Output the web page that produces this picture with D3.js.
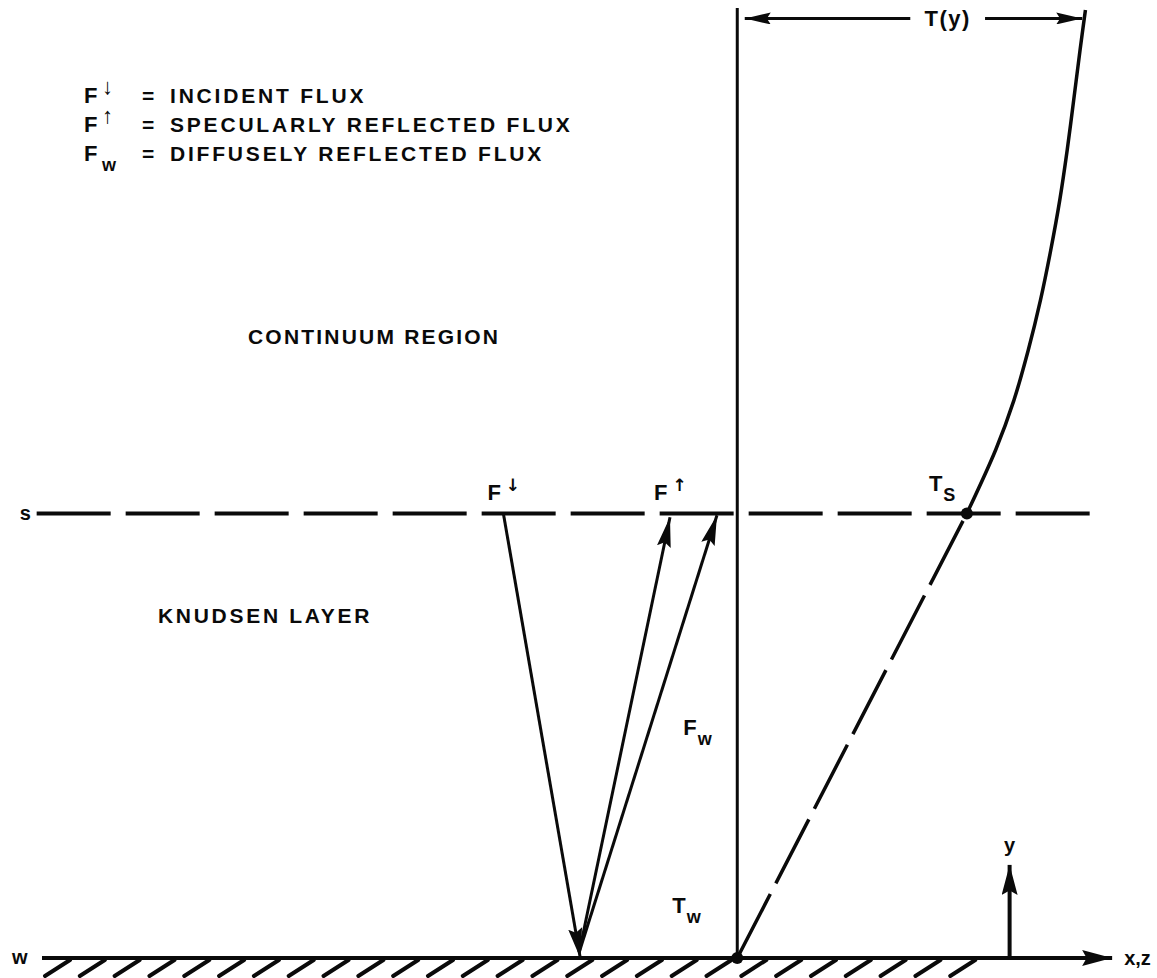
<!DOCTYPE html>
<html><head><meta charset="utf-8">
<script src="https://cdn.jsdelivr.net/npm/d3@7"></script>
<style>
body{margin:0;background:#fff}
text{font-family:"Liberation Sans",Arial,sans-serif;font-weight:bold;fill:#0a0a0a}
</style>
</head><body>
<svg id="c" width="1157" height="978"></svg>
<script>
// ---- data (diagram units: x 0..100 across the wall, y 0 = wall, 100 = top) ----
const wallLevel = 0;
const slipLevel = 46.8;            // "s" plane
const topLevel = 100;
const wallExtent = [0, 100.2];
const slipExtent = [-0.5, 99.3];
const profileAxisX = 65.1;         // reference axis for T(y)
const profileHeights = [46.8, 53.5, 58.7, 64.0, 69.3, 74.5, 79.8, 85.1, 90.3, 95.6, 99.8];
const profileTemps   = [86.6, 89.3, 91.0, 92.35, 93.5, 94.45, 95.3, 96.0, 96.6, 97.2, 97.7];
const wallTemp = [65.1, 0];        // Tw point
const slipTemp = [86.6, 46.8];     // Ts point
const incidentStart = [43.2, 46.8];
const wallHit = [50.4, 0];
const reflectedStart = [50.3, 0.6];
const reflectedEnds = [[58.8, 46.4], [63.2, 46.6]];
const dimLevel = 98.9;
const dimEnds = [65.8, 97.4];
const dimGap = [81.3, 88.3];
const yAxisX = 90.6;
const yAxisTop = 9.8;
const hatchCount = 27;
const hatchStart = 0.28;
const hatchStep = 3.26;
const legendSymbols = ["F", "F", "F"];
const legendMarks = ["\u2193", "\u2191", "w"];
const legendTexts = ["INCIDENT FLUX", "SPECULARLY REFLECTED FLUX", "DIFFUSELY REFLECTED FLUX"];
const regionLabels = ["CONTINUUM REGION", "KNUDSEN LAYER"];

// ---- scales ----
const x = d3.scaleLinear().domain([0, 100]).range([42, 1110]);
const y = d3.scaleLinear().domain([0, 100]).range([958, 8]);

const svg = d3.select("#c");
const defs = svg.append("defs");
function marker(id, len, half) {
  defs.append("marker").attr("id", id)
    .attr("markerUnits", "userSpaceOnUse")
    .attr("viewBox", `0 ${-half} ${len} ${2*half}`)
    .attr("refX", len).attr("refY", 0)
    .attr("markerWidth", len).attr("markerHeight", 2*half)
    .attr("orient", "auto")
    .append("path").attr("d", `M0,${-half}L${len},0L0,${half}L${len*0.15},0Z`).attr("fill", "#0a0a0a");
}
marker("aFlux", 30, 7);
marker("aAxis", 30, 8);
marker("aDim", 26, 6);

const ink = "#0a0a0a";

// wall hatching
svg.append("g").selectAll("line").data(d3.range(hatchCount)).join("line")
  .attr("x1", i => x(hatchStart + i * hatchStep)).attr("y1", y(wallLevel) + 18)
  .attr("x2", i => x(hatchStart + i * hatchStep) + 25).attr("y2", y(wallLevel) + 2)
  .attr("stroke", ink).attr("stroke-width", 4).attr("stroke-linecap", "round");

// wall line with x,z arrow
svg.append("line").attr("x1", x(wallExtent[0])).attr("x2", x(wallExtent[1]))
  .attr("y1", y(wallLevel)).attr("y2", y(wallLevel))
  .attr("stroke", ink).attr("stroke-width", 4).attr("marker-end", "url(#aAxis)");

// y axis arrow
svg.append("line").attr("x1", x(yAxisX)).attr("x2", x(yAxisX))
  .attr("y1", y(wallLevel)).attr("y2", y(yAxisTop))
  .attr("stroke", ink).attr("stroke-width", 4).attr("marker-end", "url(#aAxis)");

// s line (dashed)
svg.append("line").attr("x1", x(slipExtent[0])).attr("x2", x(slipExtent[1]))
  .attr("y1", y(slipLevel)).attr("y2", y(slipLevel))
  .attr("stroke", ink).attr("stroke-width", 4).attr("stroke-dasharray", "74 15");

// vertical reference axis
svg.append("line").attr("x1", x(profileAxisX)).attr("x2", x(profileAxisX))
  .attr("y1", y(wallLevel)).attr("y2", y(topLevel))
  .attr("stroke", ink).attr("stroke-width", 3);

// dashed linear extrapolation Tw -> Ts
svg.append("line").attr("x1", x(wallTemp[0])).attr("y1", y(wallTemp[1]))
  .attr("x2", x(slipTemp[0])).attr("y2", y(slipTemp[1]))
  .attr("stroke", ink).attr("stroke-width", 3.5).attr("stroke-dasharray", "72 12");

// T(y) curve
const line = d3.line().x(d => x(d[0])).y(d => y(d[1])).curve(d3.curveCatmullRom);
svg.append("path").datum(profileTemps.map((t, i) => [t, profileHeights[i]]))
  .attr("d", line).attr("fill", "none").attr("stroke", ink).attr("stroke-width", 3.5);

// dots
svg.selectAll("circle.pt").data([wallTemp, slipTemp]).join("circle")
  .attr("cx", d => x(d[0])).attr("cy", d => y(d[1])).attr("r", 6).attr("fill", ink);

// flux arrows
svg.append("line").attr("x1", x(incidentStart[0])).attr("y1", y(incidentStart[1]))
  .attr("x2", x(wallHit[0])).attr("y2", y(wallHit[1]))
  .attr("stroke", ink).attr("stroke-width", 3).attr("marker-end", "url(#aFlux)");
svg.selectAll("line.refl").data(reflectedEnds).join("line")
  .attr("x1", x(reflectedStart[0])).attr("y1", y(reflectedStart[1]))
  .attr("x2", d => x(d[0])).attr("y2", d => y(d[1]))
  .attr("stroke", ink).attr("stroke-width", 3).attr("marker-end", "url(#aFlux)");

// T(y) dimension
svg.append("line").attr("x1", x(dimGap[0])).attr("x2", x(dimEnds[0]))
  .attr("y1", y(dimLevel)).attr("y2", y(dimLevel))
  .attr("stroke", ink).attr("stroke-width", 3).attr("marker-end", "url(#aDim)");
svg.append("line").attr("x1", x(dimGap[1])).attr("x2", x(dimEnds[1]))
  .attr("y1", y(dimLevel)).attr("y2", y(dimLevel))
  .attr("stroke", ink).attr("stroke-width", 3).attr("marker-end", "url(#aDim)");
svg.append("text").attr("x", x((dimGap[0] + dimGap[1]) / 2)).attr("y", y(dimLevel) + 8)
  .attr("text-anchor", "middle").attr("font-size", 22).attr("letter-spacing", 1.5).text("T(y)");

// legend
const lg = svg.append("g").attr("transform", "translate(84,103)");
legendTexts.forEach((t, i) => {
  const row = lg.append("g").attr("transform", `translate(0,${i * 29})`);
  row.append("text").attr("font-size", 22).text(legendSymbols[i]);
  if (legendMarks[i] === "w") {
    row.append("text").attr("x", 18).attr("y", 10).attr("font-size", 18).text(legendMarks[i]);
  } else {
    row.append("text").attr("x", 18).attr("y", -9).attr("font-size", 22)
      .attr("font-family", "DejaVu Sans").text(legendMarks[i]);
  }
  row.append("text").attr("x", 58).attr("font-size", 21).text("=");
  row.append("text").attr("x", 86).attr("font-size", 21).attr("letter-spacing", 2.8).text(t);
});

// region labels
svg.append("text").attr("x", 248).attr("y", 344).attr("font-size", 21).attr("letter-spacing", 2.2).text(regionLabels[0]);
svg.append("text").attr("x", 158).attr("y", 623).attr("font-size", 21).attr("letter-spacing", 2.7).text(regionLabels[1]);

// plane labels
svg.append("text").attr("x", x(slipExtent[0]) - 17).attr("y", y(slipLevel) + 7).attr("font-size", 20).text("s");
svg.append("text").attr("x", x(wallExtent[0]) - 30).attr("y", y(wallLevel) + 6).attr("font-size", 20).text("w");
svg.append("text").attr("x", x(wallExtent[1]) + 12).attr("y", y(wallLevel) + 7).attr("font-size", 20).text("x,z");
svg.append("text").attr("x", x(yAxisX)).attr("y", y(yAxisTop) - 13).attr("text-anchor", "middle").attr("font-size", 20).text("y");

// symbol labels
function sym(px, py, main, sub, sup) {
  const t = svg.append("text").attr("x", px).attr("y", py).attr("font-size", 22);
  t.append("tspan").text(main);
  if (sub) t.append("tspan").attr("dx", 1).attr("dy", 10).attr("font-size", 18).text(sub);
  if (sup) t.append("tspan").attr("dx", 5).attr("dy", -9).attr("font-size", 17).attr("font-family", "DejaVu Sans").text(sup);
}
sym(x(incidentStart[0]) - 16, y(slipLevel) - 13, "F", null, "\u2193");
sym(x(reflectedEnds[0][0]) - 16, y(slipLevel) - 13, "F", null, "\u2191");
sym(x(slipTemp[0]) - 38, y(slipLevel) - 22, "T", "S", null);
sym(x(profileAxisX) - 54, y(23.5), "F", "w", null);
sym(x(profileAxisX) - 65, y(4.7), "T", "w", null);
</script>
</body></html>
